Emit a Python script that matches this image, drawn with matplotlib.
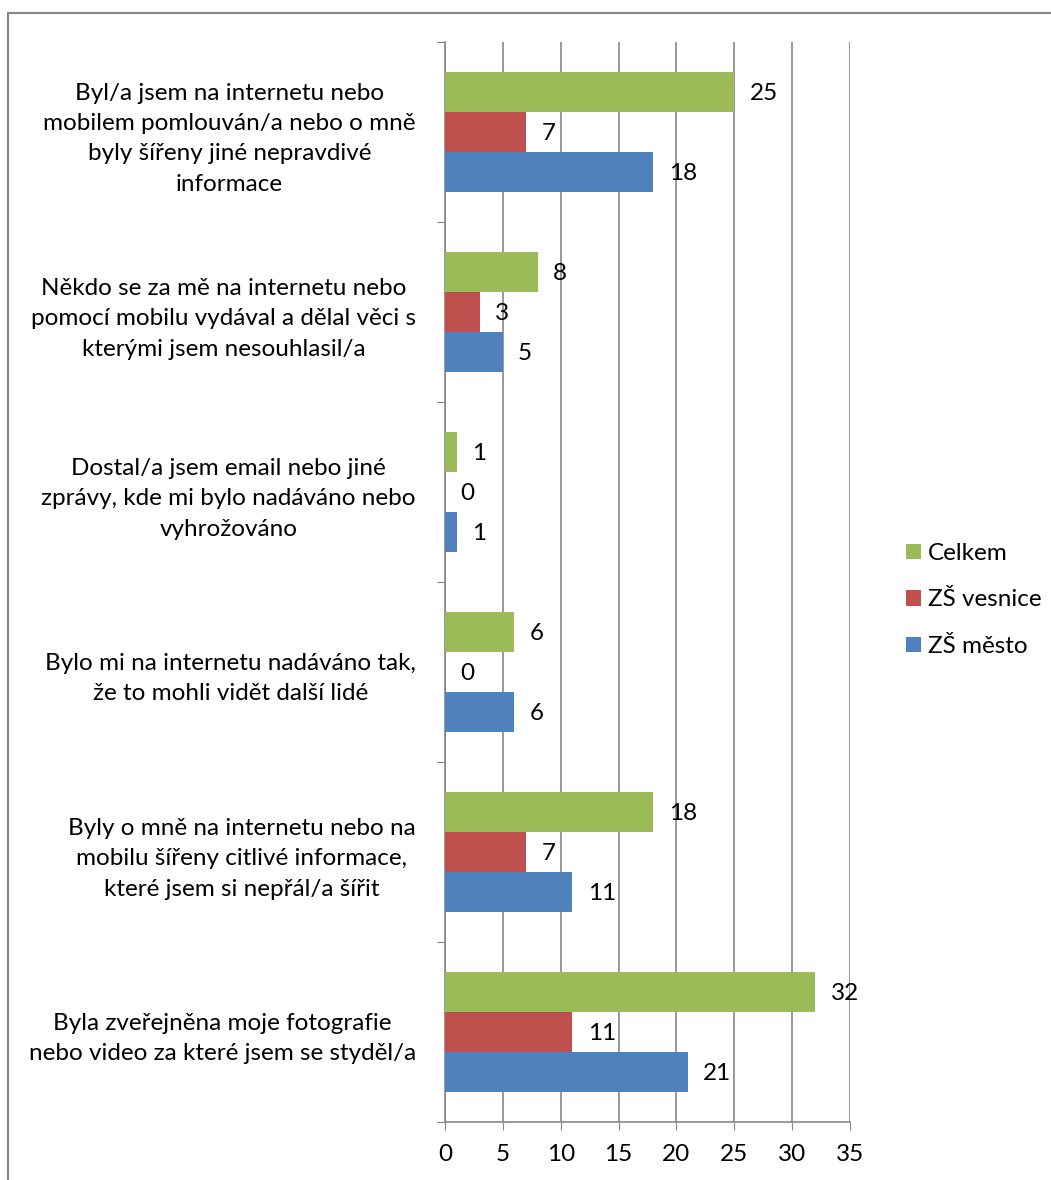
import numpy as np
import matplotlib
matplotlib.use('Agg')
import matplotlib.pyplot as plt
from matplotlib.patches import Rectangle

# categories, top to bottom
categories = [
    "Byl/a jsem na internetu nebo\nmobilem pomlouván/a nebo o mně\nbyly šířeny jiné nepravdivé\ninformace",
    "Někdo se za mě na internetu nebo\npomocí mobilu vydával a dělal věci s\nkterými jsem nesouhlasil/a",
    "Dostal/a jsem email nebo jiné\nzprávy, kde mi bylo nadáváno nebo\nvyhrožováno",
    "Bylo mi na internetu nadáváno tak,\nže to mohli vidět další lidé",
    "Byly o mně na internetu nebo na\nmobilu šířeny citlivé informace,\nkteré jsem si nepřál/a šířit",
    "Byla zveřejněna moje fotografie\nnebo video za které jsem se styděl/a",
]
celkem = [25, 8, 1, 6, 18, 32]
zs_vesnice = [7, 3, 0, 0, 7, 11]
zs_mesto = [18, 5, 1, 6, 11, 21]

series_names = ["Celkem", "ZŠ vesnice", "ZŠ město"]
colors = ["#9BBB59", "#C0504D", "#4F81BD"]
x_ticks = [0, 5, 10, 15, 20, 25, 30, 35]

plt.rcParams['font.family'] = ['Lato', 'DejaVu Sans']
fs = 17.5

fig = plt.figure(figsize=(10.51, 11.8), dpi=100)
ax = fig.add_axes([445 / 1051, 58 / 1180, 405 / 1051, 1080 / 1180])

pos = np.arange(len(categories))
h = 40 / 180
for k, (vals, name, col) in enumerate(zip([celkem, zs_vesnice, zs_mesto], series_names, colors)):
    y = pos + (k - 1) * h
    ax.barh(y, vals, height=h, color=col, label=name, zorder=3)
    for yy, v in zip(y, vals):
        ax.annotate(str(v), (v, yy), xytext=(11, -1), textcoords='offset points',
                    ha='left', va='center', fontsize=fs, zorder=4)

ax.set_xlim(0, 35)
ax.set_ylim(len(categories) - 0.5, -0.5)
ax.set_xticks(x_ticks)
ax.set_xticklabels([str(t) for t in x_ticks], fontsize=fs)
ax.set_yticks(np.arange(len(categories) + 1) - 0.5, minor=False)
ax.set_yticklabels([])
ax.set_yticks(pos, minor=True)
ax.set_yticklabels(categories, minor=True, fontsize=fs, multialignment='center',
                   linespacing=1.55)
ax.tick_params(axis='y', which='minor', length=0, pad=21)
ax.tick_params(axis='y', which='major', length=6, color='#868686')
ax.tick_params(axis='x', length=6, color='#868686', pad=10)
ax.grid(axis='x', color='#868686', linewidth=1.2, zorder=0)
for s in ['top', 'right']:
    ax.spines[s].set_visible(False)
for s in ['left', 'bottom']:
    ax.spines[s].set_color('#868686')
    ax.spines[s].set_linewidth(1.2)

handles, labels = ax.get_legend_handles_labels()
fig.legend(handles, labels, loc='center left', bbox_to_anchor=(896 / 1051, 1 - 600 / 1180),
           frameon=False, fontsize=fs, handlelength=0.62, handleheight=0.62,
           handletextpad=0.3, labelspacing=1.05, borderaxespad=0)

# outer chart border (right and bottom edges fall outside the image)
fig.patches.append(Rectangle((8 / 1051, -0.05), 1.2, 1 - 13 / 1180 + 0.05,
                             transform=fig.transFigure, fill=False,
                             edgecolor='#868686', linewidth=1.5))

fig.savefig('out.png', dpi=100)
